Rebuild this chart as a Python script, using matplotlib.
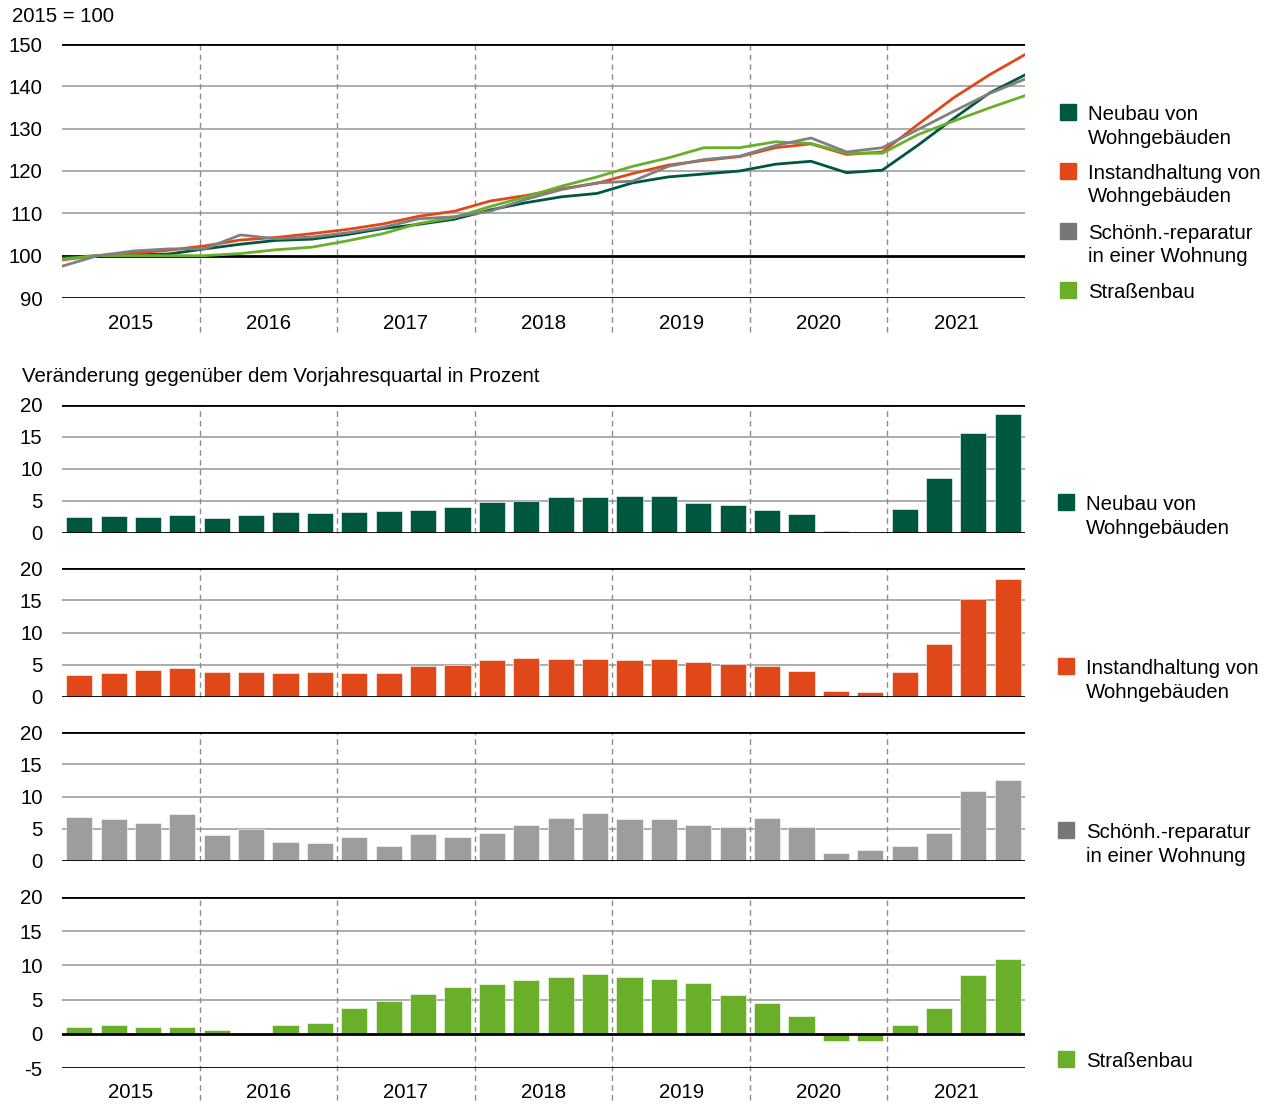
import numpy as np
import matplotlib.pyplot as plt
from matplotlib.patches import Rectangle

plt.rcParams['font.family'] = ['Liberation Sans', 'DejaVu Sans']
plt.rcParams['font.size'] = 14.7

# data, quarterly 2015 Q1 - 2021 Q4
years = ['2015', '2016', '2017', '2018', '2019', '2020', '2021']

neubau_idx = [99.5, 100.0, 100.2, 100.4, 101.6, 102.7, 103.6, 103.9, 105.0, 106.4,
              107.4, 108.6, 110.8, 112.5, 113.9, 114.7, 117.2, 118.6, 119.3, 120.0,
              121.6, 122.3, 119.6, 120.2, 126.1, 132.4, 138.4, 142.7]
instand_idx = [99.0, 100.0, 100.6, 101.3, 102.3, 103.7, 104.3, 105.2, 106.2, 107.5,
               109.3, 110.5, 112.9, 114.2, 115.8, 117.1, 119.4, 121.4, 122.5, 123.4,
               125.5, 126.4, 123.9, 124.5, 131.0, 137.3, 142.7, 147.5]
schoenh_idx = [97.5, 100.0, 101.1, 101.6, 101.6, 104.9, 104.0, 104.4, 105.4, 106.7,
               108.7, 109.2, 110.5, 113.3, 115.6, 117.2, 117.6, 121.1, 122.7, 123.5,
               126.0, 127.8, 124.5, 125.5, 129.8, 134.1, 138.3, 141.7]
strasse_idx = [99.2, 100.0, 100.0, 100.0, 100.0, 100.5, 101.4, 102.0, 103.5, 105.2,
               107.6, 109.0, 111.6, 113.9, 116.4, 118.6, 121.1, 123.1, 125.5, 125.5,
               126.9, 126.5, 124.2, 124.2, 128.6, 131.8, 134.9, 137.8]

neubau_chg = [2.5, 2.7, 2.5, 2.8, 2.3, 2.8, 3.25, 3.15, 3.25, 3.45, 3.65, 4.1, 4.85, 5.05,
              5.55, 5.65, 5.8, 5.75, 4.75, 4.4, 3.65, 2.9, 0.3, 0.2, 3.75, 8.6, 15.55, 18.55]
instand_chg = [3.35, 3.75, 4.2, 4.45, 3.8, 3.8, 3.65, 3.8, 3.65, 3.7, 4.8, 4.9, 5.75, 6.05,
               5.85, 5.95, 5.75, 5.95, 5.4, 5.1, 4.8, 4.05, 0.95, 0.85, 3.95, 8.15, 15.15, 18.3]
schoenh_chg = [6.8, 6.45, 5.95, 7.25, 4.1, 4.95, 2.95, 2.85, 3.65, 2.35, 4.25, 3.65, 4.35, 5.6,
               6.6, 7.45, 6.55, 6.45, 5.55, 5.2, 6.7, 5.25, 1.3, 1.75, 2.25, 4.4, 10.85, 12.6]
strasse_chg = [0.95, 1.35, 0.95, 1.05, 0.55, 0.0, 1.25, 1.55, 3.75, 4.8, 5.85, 6.8, 7.25, 7.85,
               8.25, 8.75, 8.35, 7.95, 7.5, 5.65, 4.5, 2.65, -1.1, -1.1, 1.25, 3.75, 8.65, 10.9]

labels = ['Neubau von\nWohngebäuden', 'Instandhaltung von\nWohngebäuden',
          'Schönh.-reparatur\nin einer Wohnung', 'Straßenbau']
line_colors = ['#00573f', '#e0481a', '#808080', '#6aaf2a']
bar_colors = ['#00573f', '#e0481a', '#9d9d9d', '#6aaf2a']
legend_colors = ['#00573f', '#e0481a', '#777777', '#6aaf2a']

W, H = 1273, 1104
fig = plt.figure(figsize=(W / 100, H / 100), dpi=100)


def add_ax(left, top, right, bottom):
    return fig.add_axes([left / W, 1 - bottom / H, (right - left) / W, (bottom - top) / H])


def legend_entry(x, y, color, label):
    fig.patches.append(Rectangle((x / W, 1 - (y + 16) / H), 16 / W, 16 / H,
                                 transform=fig.transFigure, color=color))
    fig.text((x + 28) / W, 1 - (y + 1) / H, label, ha='left', va='top', linespacing=1.3)


def style_axes(ax, ticks, black):
    for s in ax.spines.values():
        s.set_visible(False)
    ax.set_xticks([])
    ax.set_yticks(ticks)
    ax.set_yticklabels([str(t) for t in ticks])
    ax.tick_params(axis='y', length=0, pad=14, labelsize=14.7)
    for t in ticks:
        if t in black:
            ax.axhline(t, color='black', lw=2, zorder=3)
        else:
            ax.axhline(t, color='#a6a6a6', lw=1.3, zorder=0.4)


# top chart: index
ax = add_ax(62, 44, 1025, 298)
x = np.arange(len(neubau_idx))
ax.set_xlim(0, 27)
ax.set_ylim(90, 150)
style_axes(ax, [90, 100, 110, 120, 130, 140, 150], [90, 100, 150])
for k in range(1, 7):
    ax.axvline(27 / 7 * k, ymin=-0.135, ymax=1, color='#8c8c8c', lw=1,
               ls=(0, (4, 3)), clip_on=False, zorder=0.5)
for k, yr in enumerate(years):
    ax.text(27 / 7 * (k + 0.5), -0.1, yr, transform=ax.get_xaxis_transform(),
            ha='center', va='center')
ax.plot(x, neubau_idx, color=line_colors[0], lw=2, zorder=4)
ax.plot(x, instand_idx, color=line_colors[1], lw=2, zorder=4)
ax.plot(x, strasse_idx, color=line_colors[3], lw=2, zorder=4)
ax.plot(x, schoenh_idx, color=line_colors[2], lw=2, zorder=4)

fig.text(12 / W, 1 - 16 / H, '2015 = 100', ha='left', va='center')

legend_y = [104, 163, 223, 282]
for yy, c, lab in zip(legend_y, legend_colors, labels):
    legend_entry(1060, yy, c, lab)

# bar panels: change on previous year
fig.text(22 / W, 1 - 376 / H, 'Veränderung gegenüber dem Vorjahresquartal in Prozent',
         ha='left', va='center')

panels = [(405, 533, neubau_chg), (568, 697, instand_chg), (732, 861, schoenh_chg),
          (897, 1068, strasse_chg)]
legend_bar_y = [494, 658, 822, 1051]
for i, (top, bottom, vals) in enumerate(panels):
    ax = add_ax(62, top, 1025, bottom)
    xb = np.arange(len(vals))
    ax.set_xlim(-0.5, 27.5)
    if i == 3:
        ax.set_ylim(-5, 20)
        style_axes(ax, [-5, 0, 5, 10, 15, 20], [-5, 0, 20])
        ymin = -(1100 - bottom) / (bottom - top)
    else:
        ax.set_ylim(0, 20)
        style_axes(ax, [0, 5, 10, 15, 20], [0, 20])
        ymin = 0
    for k in range(1, 7):
        ax.axvline(4 * k - 0.5, ymin=ymin, ymax=1, color='#8c8c8c', lw=1,
                   ls=(0, (4, 3)), clip_on=False, zorder=0.5)
    ax.bar(xb, vals, width=0.76, color=bar_colors[i], edgecolor='white', lw=0.4, zorder=2)
    if i == 3:
        for k, yr in enumerate(years):
            ax.text(4 * k + 1.5, -(1092 - bottom) / (bottom - top), yr,
                    transform=ax.get_xaxis_transform(), ha='center', va='center')
    legend_entry(1058, legend_bar_y[i], legend_colors[i], labels[i])

fig.savefig('out.png', dpi=100)
